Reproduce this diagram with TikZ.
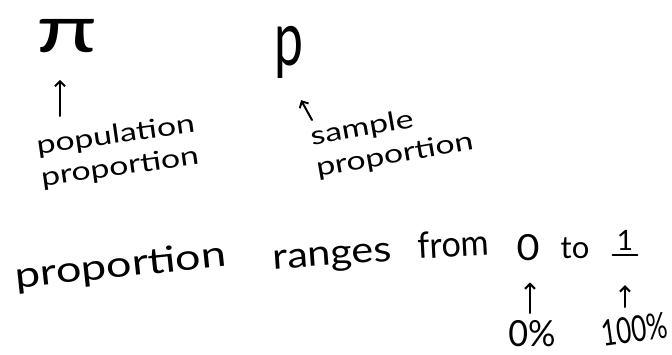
\documentclass[tikz,border=0pt]{standalone}
\usepackage{fontspec}
\setmainfont{Lato}
\usetikzlibrary{arrows.meta}

\begin{document}
\begin{tikzpicture}[x=1pt,y=-1pt,
    ink/.style={line width=2pt,line cap=round},
    lnk/.style={ink,-{Straight Barb[length=5pt,width=10pt,line width=2pt]}},
    hand/.style={inner sep=0pt,font=\fontsize{36}{42}\selectfont},
    note/.style={hand,font=\fontsize{26}{32}\selectfont,align=left}]
  \useasboundingbox (0,0) rectangle (672,354);

  \node[hand,font=\fontsize{66}{66}\selectfont,xscale=1.5] (pi) at (67,36) {π};
  \node[hand,font=\fontsize{76}{76}\selectfont,xscale=0.68] (prop) at (289,52) {p};

  \node[note,rotate=8,xscale=1.3] (poplab) at (118,152) {population\\proportion};
  \node[note,rotate=10,xscale=1.3] (samlab) at (392,140) {sample\\proportion};

  \node[hand,anchor=base,rotate=6,xscale=1.25] (wprop) at (122,277) {proportion};
  \node[hand,anchor=base,rotate=4,xscale=1.15] (wrang) at (333,265) {ranges};
  \node[hand,anchor=base,rotate=3,xscale=0.95] (wfrom) at (454,257) {from};
  \node[hand,anchor=base,xscale=1.1] (zero) at (528,260) {0};
  \node[hand,anchor=base,font=\fontsize{31}{36}\selectfont] (wto) at (575,258) {to};
  \node[hand,anchor=base,font=\fontsize{28}{34}\selectfont] (one) at (625,250) {1};
  \node[hand,anchor=base,xscale=0.95] (pct0) at (532,346) {0\%};
  \node[hand,anchor=base,rotate=8,xscale=0.72] (pct100) at (636,342) {100\%};

  \coordinate (poptail) at (60,116);
  \coordinate (samtail) at (312,120);
  \coordinate (tail0) at (530,313);
  \coordinate (tail100) at (625,307);

  \draw[lnk,shorten >=27pt] (poptail) -- (poptail |- pi.south);
  \draw[lnk,shorten >=25pt] (samtail) -- (prop.south);
  \draw[lnk,shorten >=22pt] (tail0) -- (tail0 |- zero.south);
  \draw[lnk,shorten >=35pt] (tail100) -- (tail100 |- one.south);
  \draw[ink] ([xshift=-4pt,yshift=-5pt]one.south west) -- ([xshift=4pt,yshift=-5pt]one.south east);
\end{tikzpicture}
\end{document}
